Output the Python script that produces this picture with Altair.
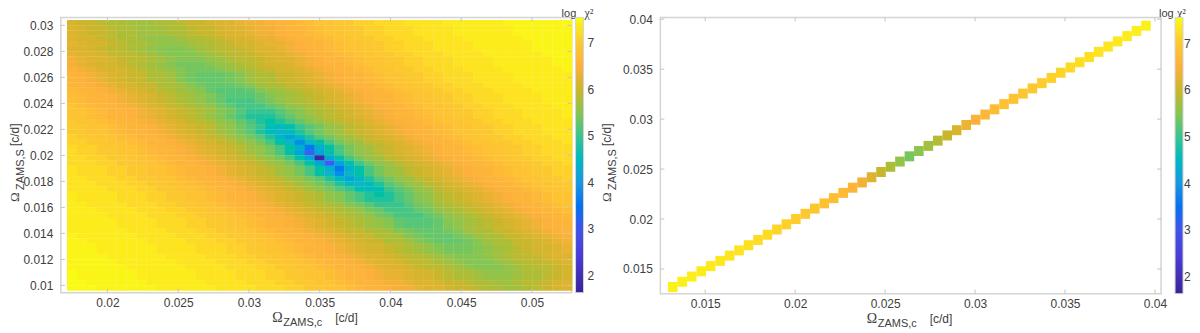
import altair as alt
import pandas as pd

# log chi^2 (in tenths), top row first, left column first
chi2_left = [
[61,60,60,59,58,58,57,57,57,58,58,59,60,60,61,62,62,63,64,64,65,66,66,67,68,69,69,70,70,71,71,72,72,72,73,73,73,73,74,74,74,74,74,74,75,75,75,75,75,75,76],
[62,61,60,60,59,58,58,57,57,57,58,58,59,60,60,61,62,62,63,64,64,65,66,66,67,68,69,69,70,70,71,71,72,72,72,73,73,73,73,74,74,74,74,74,74,75,75,75,75,75,75],
[62,61,60,60,59,58,58,57,57,57,58,58,59,60,60,61,62,62,63,64,64,65,66,66,67,68,69,69,70,70,71,71,72,72,72,73,73,73,73,74,74,74,74,74,74,75,75,75,75,75,75],
[62,61,61,60,59,58,58,57,56,56,56,57,58,58,59,60,61,61,62,63,63,64,65,66,66,67,68,69,69,70,70,71,71,72,72,72,73,73,73,73,74,74,74,74,74,74,75,75,75,75,75],
[63,62,61,61,60,59,58,58,57,56,56,56,57,58,58,59,60,61,61,62,63,63,64,65,66,66,67,68,69,69,70,70,71,71,72,72,72,73,73,73,73,74,74,74,74,74,74,75,75,75,75],
[62,62,61,60,59,59,58,57,56,55,55,55,56,57,58,59,59,60,61,62,62,63,64,65,66,66,67,68,69,69,70,70,71,71,72,72,72,73,73,73,73,74,74,74,74,74,74,75,75,75,75],
[63,62,62,61,60,59,59,58,57,56,55,55,55,56,57,58,59,59,60,61,62,62,63,64,65,66,66,67,68,69,69,70,70,71,71,72,72,72,73,73,73,73,74,74,74,74,74,74,75,75,75],
[64,63,62,62,61,60,59,59,58,57,56,55,55,55,56,57,58,59,59,60,61,62,62,63,64,65,66,66,67,68,69,69,70,70,71,71,72,72,72,73,73,73,73,74,74,74,74,74,74,75,75],
[64,63,62,61,61,60,59,58,57,56,55,54,54,54,55,56,57,58,59,60,61,61,62,63,64,65,66,66,67,68,69,69,70,70,71,71,72,72,72,73,73,73,73,74,74,74,74,74,74,75,75],
[65,64,63,62,61,61,60,59,58,57,56,55,54,54,54,55,56,57,58,59,60,61,61,62,63,64,65,66,66,67,68,69,69,70,70,71,71,72,72,72,73,73,73,73,74,74,74,74,74,74,75],
[66,65,64,63,62,61,60,60,58,58,57,55,54,53,53,53,54,55,57,58,58,60,60,61,62,63,64,65,66,66,67,68,69,69,70,70,71,71,72,72,72,73,73,73,73,74,74,74,74,74,74],
[66,65,64,63,62,61,60,60,58,58,57,55,54,53,53,53,54,55,57,58,58,60,60,61,62,63,64,65,66,66,67,68,69,69,70,70,71,71,72,72,72,73,73,73,73,74,74,74,74,74,74],
[66,66,65,64,63,62,61,60,60,58,58,57,55,54,53,53,53,54,55,57,58,58,60,60,61,62,63,64,65,66,66,67,68,69,69,70,70,71,71,72,72,72,73,73,73,73,74,74,74,74,74],
[67,66,66,65,64,63,62,61,60,59,58,57,56,55,53,52,52,52,53,55,56,57,58,59,60,61,62,63,64,65,66,66,67,68,69,69,70,70,71,71,72,72,72,73,73,73,73,74,74,74,74],
[68,67,66,66,65,64,63,62,61,60,59,58,57,56,55,53,52,52,52,53,55,56,57,58,59,60,61,62,63,64,65,66,66,67,68,69,69,70,70,71,71,72,72,72,73,73,73,73,74,74,74],
[68,67,66,66,65,64,63,62,61,60,59,58,57,56,54,53,51,51,51,53,54,56,57,58,59,60,61,62,63,64,65,66,66,67,68,69,69,70,70,71,71,72,72,72,73,73,73,73,74,74,74],
[69,68,67,66,66,65,64,63,62,61,60,59,58,57,56,54,53,51,51,51,53,54,56,57,58,59,60,61,62,63,64,65,66,66,67,68,69,69,70,70,71,71,72,72,72,73,73,73,73,74,74],
[69,69,68,67,66,66,65,64,63,62,61,60,59,58,57,55,54,52,50,50,50,52,54,55,57,58,59,60,61,62,63,64,65,66,66,67,68,69,69,70,70,71,71,72,72,72,73,73,73,73,74],
[69,69,68,67,66,66,65,64,63,62,61,60,59,58,56,55,53,51,49,49,49,51,53,55,56,58,59,60,61,62,63,64,65,66,66,67,68,69,69,70,70,71,71,72,72,72,73,73,73,73,74],
[70,69,69,68,67,66,66,65,64,63,62,61,60,59,58,56,55,53,51,49,48,49,51,53,55,56,58,59,60,61,62,63,64,65,66,66,67,68,69,69,70,70,71,71,72,72,72,73,73,73,73],
[70,70,69,69,68,67,66,66,65,64,63,62,61,60,59,57,56,54,52,50,47,46,47,50,52,54,56,57,59,60,61,62,63,64,65,66,66,67,68,69,69,70,70,71,71,72,72,72,73,73,73],
[70,70,69,69,68,67,66,66,65,64,63,62,61,60,59,57,56,54,52,49,46,44,46,49,52,54,56,57,59,60,61,62,63,64,65,66,66,67,68,69,69,70,70,71,71,72,72,72,73,73,73],
[71,70,70,69,69,68,67,66,66,65,64,63,62,61,60,59,57,56,54,52,49,45,42,45,49,52,54,56,57,59,60,61,62,63,64,65,66,66,67,68,69,69,70,70,71,71,72,72,72,73,73],
[71,71,70,70,69,69,68,67,66,66,65,64,63,62,61,60,59,57,56,54,51,48,44,39,44,48,51,54,56,57,59,60,61,62,63,64,65,66,66,67,68,69,69,70,70,71,71,72,72,72,73],
[72,71,71,70,70,69,69,68,67,66,66,65,64,63,62,61,60,59,57,56,54,51,48,43,36,43,48,51,54,56,57,59,60,61,62,63,64,65,66,66,67,68,69,69,70,70,71,71,72,72,72],
[72,71,71,70,70,69,69,68,67,66,66,65,64,63,62,61,60,59,57,56,54,51,48,42,33,42,48,51,54,56,57,59,60,61,62,63,64,65,66,66,67,68,69,69,70,70,71,71,72,72,72],
[72,72,71,71,70,70,69,69,68,67,66,66,65,64,63,62,61,60,59,57,56,54,51,48,42,18,42,48,51,54,56,57,59,60,61,62,63,64,65,66,66,67,68,69,69,70,70,71,71,72,72],
[72,72,72,71,71,70,70,69,69,68,67,66,66,65,64,63,62,61,60,59,57,56,54,51,48,42,33,42,48,51,54,56,57,59,60,61,62,63,64,65,66,66,67,68,69,69,70,70,71,71,72],
[73,72,72,72,71,71,70,70,69,69,68,67,66,66,65,64,63,62,61,60,59,57,56,54,51,48,43,36,43,48,51,54,56,57,59,60,61,62,63,64,65,66,66,67,68,69,69,70,70,71,71],
[73,72,72,72,71,71,70,70,69,69,68,67,66,66,65,64,63,62,61,60,59,57,56,54,51,48,44,39,44,48,51,54,56,57,59,60,61,62,63,64,65,66,66,67,68,69,69,70,70,71,71],
[73,73,72,72,72,71,71,70,70,69,69,68,67,66,66,65,64,63,62,61,60,59,57,56,54,52,49,45,42,45,49,52,54,56,57,59,60,61,62,63,64,65,66,66,67,68,69,69,70,70,71],
[73,73,73,72,72,72,71,71,70,70,69,69,68,67,66,66,65,64,63,62,61,60,59,57,56,54,52,49,46,44,46,49,52,54,56,57,59,60,61,62,63,64,65,66,66,67,68,69,69,70,70],
[73,73,73,73,72,72,72,71,71,70,70,69,69,68,67,66,66,65,64,63,62,61,60,59,57,56,54,52,50,47,46,47,50,52,54,56,57,59,60,61,62,63,64,65,66,66,67,68,69,69,70],
[74,73,73,73,73,72,72,72,71,71,70,70,69,69,68,67,66,66,65,64,63,62,61,60,59,58,56,55,53,51,49,48,49,51,53,55,56,58,59,60,61,62,63,64,65,66,66,67,68,69,69],
[74,73,73,73,73,72,72,72,71,71,70,70,69,69,68,67,66,66,65,64,63,62,61,60,59,58,56,55,53,51,49,49,49,51,53,55,56,58,59,60,61,62,63,64,65,66,66,67,68,69,69],
[74,74,73,73,73,73,72,72,72,71,71,70,70,69,69,68,67,66,66,65,64,63,62,61,60,59,58,57,55,54,52,50,50,50,52,54,55,57,58,59,60,61,62,63,64,65,66,66,67,68,69],
[74,74,74,73,73,73,73,72,72,72,71,71,70,70,69,69,68,67,66,66,65,64,63,62,61,60,59,58,57,56,54,53,51,51,51,53,54,56,57,58,59,60,61,62,63,64,65,66,66,67,68],
[74,74,74,74,73,73,73,73,72,72,72,71,71,70,70,69,69,68,67,66,66,65,64,63,62,61,60,59,58,57,56,54,53,51,51,51,53,54,56,57,58,59,60,61,62,63,64,65,66,66,67],
[74,74,74,74,74,73,73,73,73,72,72,72,71,71,70,70,69,69,68,67,66,66,65,64,63,62,61,60,59,58,57,56,55,53,52,52,52,53,55,56,57,58,59,60,61,62,63,64,65,66,66],
[74,74,74,74,74,73,73,73,73,72,72,72,71,71,70,70,69,69,68,67,66,66,65,64,63,62,61,60,59,58,57,56,55,53,52,52,52,53,55,56,57,58,59,60,61,62,63,64,65,66,66],
[74,74,74,74,74,74,73,73,73,73,72,72,72,71,71,70,70,69,69,68,67,66,66,65,64,63,62,61,60,60,58,58,57,55,54,53,53,53,54,55,57,58,58,60,60,61,62,63,64,65,66],
[75,74,74,74,74,74,74,73,73,73,73,72,72,72,71,71,70,70,69,69,68,67,66,66,65,64,63,62,61,60,60,58,58,57,55,54,53,53,53,54,55,57,58,58,60,60,61,62,63,64,65],
[75,75,74,74,74,74,74,74,73,73,73,73,72,72,72,71,71,70,70,69,69,68,67,66,66,65,64,63,62,61,60,60,58,58,57,55,54,53,53,53,54,55,57,58,58,60,60,61,62,63,64],
[75,75,75,74,74,74,74,74,74,73,73,73,73,72,72,72,71,71,70,70,69,69,68,67,66,66,65,64,63,62,61,61,60,59,58,57,56,55,54,54,54,55,56,57,58,59,60,61,61,62,63],
[75,75,75,74,74,74,74,74,74,73,73,73,73,72,72,72,71,71,70,70,69,69,68,67,66,66,65,64,63,62,61,61,60,59,58,57,56,55,54,54,54,55,56,57,58,59,60,61,61,62,63],
[75,75,75,75,74,74,74,74,74,74,73,73,73,73,72,72,72,71,71,70,70,69,69,68,67,66,66,65,64,63,62,62,61,60,59,59,58,57,56,55,55,55,56,57,58,59,59,60,61,62,62],
[75,75,75,75,75,74,74,74,74,74,74,73,73,73,73,72,72,72,71,71,70,70,69,69,68,67,66,66,65,64,63,62,62,61,60,59,59,58,57,56,55,55,55,56,57,58,59,59,60,61,62],
[75,75,75,75,75,75,74,74,74,74,74,74,73,73,73,73,72,72,72,71,71,70,70,69,69,68,67,66,66,65,64,63,62,62,61,60,59,59,58,57,56,55,55,55,56,57,58,59,59,60,61],
[76,75,75,75,75,75,75,74,74,74,74,74,74,73,73,73,73,72,72,72,71,71,70,70,69,69,68,67,66,66,65,64,63,63,62,61,61,60,59,58,58,57,56,56,56,57,58,58,59,60,61],
[76,75,75,75,75,75,75,74,74,74,74,74,74,73,73,73,73,72,72,72,71,71,70,70,69,69,68,67,66,66,65,64,63,63,62,61,61,60,59,58,58,57,56,56,56,57,58,58,59,60,61],
[76,76,75,75,75,75,75,75,74,74,74,74,74,74,73,73,73,73,72,72,72,71,71,70,70,69,69,68,67,66,66,65,64,64,63,62,62,61,60,60,59,58,58,57,57,58,59,59,60,61,62],
[76,76,76,75,75,75,75,75,75,74,74,74,74,74,74,73,73,73,73,72,72,72,71,71,70,70,69,69,68,67,66,66,65,64,64,63,62,62,61,60,60,59,58,58,57,57,58,59,60,61,62],
]
x_left_first, x_left_step = 0.0175, 0.0007
y_left_top, y_left_step = 0.0302, 0.0004

# right map: the diagonal of cells
diag_x_first, diag_x_step = 0.0132, 0.000526
diag_y_first, diag_y_step = 0.0132, 0.000523
chi2_diag = [7.45,7.45,7.42,7.4,7.38,7.35,7.33,7.3,7.27,7.23,7.2,7.15,7.1,7.05,7.0,6.95,6.88,6.8,6.7,6.6,
             6.4,6.2,6.0,5.8,5.6,5.4,5.55,5.7,5.85,6.0,6.15,6.35,6.5,6.65,6.75,6.85,6.9,6.95,7.0,7.05,
             7.1,7.15,7.2,7.25,7.28,7.3,7.33,7.36,7.4,7.42,7.45]

x_ticks_left = [0.02, 0.025, 0.03, 0.035, 0.04, 0.045, 0.05]
y_ticks_left = [0.01, 0.012, 0.014, 0.016, 0.018, 0.02, 0.022, 0.024, 0.026, 0.028, 0.03]
x_ticks_right = [0.015, 0.02, 0.025, 0.03, 0.035, 0.04]
y_ticks_right = [0.015, 0.02, 0.025, 0.03, 0.035, 0.04]
cbar_ticks = [2, 3, 4, 5, 6, 7]

cdomain = [1.64, 2.5, 3.3, 4.0, 4.4, 5.0, 5.5, 6.0, 6.5, 7.0, 7.56]
ccolors = ["#3a2299", "#4a3fd8", "#3a5ef0", "#1a96e0", "#0cb4c8", "#38c48f", "#85c552", "#c9b62c", "#fdb03c", "#fcc82f", "#f9fb15"]

INK = "#404040"
FRAME = "#d4d4d4"
SANS = "Liberation Sans"
SERIF = "Liberation Serif"

left_cells = pd.DataFrame([
    {"x0": x_left_first + j * x_left_step - 0.00036, "x1": x_left_first + j * x_left_step + 0.00036,
     "y0": y_left_top - i * y_left_step - 0.00021, "y1": y_left_top - i * y_left_step + 0.00021,
     "v": v / 10}
    for i, row in enumerate(chi2_left) for j, v in enumerate(row)
])
right_cells = pd.DataFrame([
    {"x0": diag_x_first + i * diag_x_step - 0.000266, "x1": diag_x_first + i * diag_x_step + 0.000266,
     "y0": diag_y_first + i * diag_y_step - 0.0005, "y1": diag_y_first + i * diag_y_step + 0.0005,
     "v": v}
    for i, v in enumerate(chi2_diag)
])


def txt(s, x, y, font=SANS, size=12, angle=0):
    return alt.Chart(pd.DataFrame({"t": [s]})).mark_text(
        font=font, fontSize=size, color=INK, align="left", baseline="alphabetic", angle=angle
    ).encode(x=alt.value(x), y=alt.value(y), text="t:N")


def panel(cells, xdom, ydom, xt, yt, W, H, xtitle_x, ytitle_off, log_x, chi_gap, bar_x, lab_off):
    xs = alt.Scale(domain=xdom, nice=False, zero=False)
    ys = alt.Scale(domain=ydom, nice=False, zero=False)
    xaxis = alt.Axis(values=xt, format=".3~f", ticks=False, domain=False, grid=False, labelFont=SANS,
                     labelFontSize=12, labelColor=INK, labelPadding=5, labelFlush=False)
    yaxis = alt.Axis(values=yt, format=".3~f", ticks=False, domain=False, grid=False, labelFont=SANS,
                     labelFontSize=12, labelColor=INK, labelPadding=8, labelFlush=False)
    heat = alt.Chart(cells).mark_rect(strokeWidth=0).encode(
        x=alt.X("x0:Q", scale=xs, title=None, axis=xaxis),
        x2="x1:Q",
        y=alt.Y("y0:Q", scale=ys, title=None, axis=yaxis),
        y2="y1:Q",
        color=alt.Color("v:Q", scale=alt.Scale(domain=cdomain, range=ccolors, nice=False, zero=False, clamp=True),
                        legend=alt.Legend(orient="none", legendX=bar_x, legendY=0, title=None, type="gradient",
                                          direction="vertical", gradientLength=H, gradientThickness=8,
                                          values=cbar_ticks, labelFont=SANS, labelFontSize=12, labelColor=INK,
                                          labelOffset=lab_off, gradientStrokeColor=FRAME, gradientStrokeWidth=1)),
    )
    xdf = pd.DataFrame({"v": xt})
    ydf = pd.DataFrame({"v": yt})
    rule = dict(color="#c4c4c4", strokeWidth=1)
    ticks = [
        alt.Chart(ydf).mark_rule(**rule).encode(y=alt.Y("v:Q", scale=ys, title=None, axis=yaxis), x=alt.value(0), x2=alt.value(4)),
        alt.Chart(ydf).mark_rule(**rule).encode(y=alt.Y("v:Q", scale=ys, title=None, axis=yaxis), x=alt.value(W - 4), x2=alt.value(W)),
        alt.Chart(xdf).mark_rule(**rule).encode(x=alt.X("v:Q", scale=xs, title=None, axis=xaxis), y=alt.value(0), y2=alt.value(4)),
        alt.Chart(xdf).mark_rule(**rule).encode(x=alt.X("v:Q", scale=xs, title=None, axis=xaxis), y=alt.value(H - 4), y2=alt.value(H)),
    ]
    texts = [
        txt("Ω", xtitle_x, H + 29, SERIF, 14),
        txt("ZAMS,c", xtitle_x + 11, H + 33, SANS, 11),
        txt("[c/d]", xtitle_x + 63, H + 29, SANS, 12),
        txt("Ω", ytitle_off, 185, SERIF, 13, 270),
        txt("ZAMS,S", ytitle_off + 5, 173, SANS, 11, 270),
        txt("[c/d]", ytitle_off, 129, SANS, 12, 270),
        txt("log", log_x, 0, SANS, 11),
        txt("χ²", log_x + chi_gap, 0, SERIF, 12),
    ]
    return alt.layer(heat, *ticks, *texts).properties(width=W, height=H)


left = panel(left_cells, [0.016708, 0.0528], [0.00944, 0.030614], x_ticks_left, y_ticks_left,
             512, 276, 212, -42, 502, 23, 516, 4)
right = panel(right_cells, [0.012506, 0.04034], [0.01253, 0.04018], x_ticks_right, y_ticks_right,
              502, 277, 207, -49, 500, 18, 516, 1)

chart = (
    alt.hconcat(left, right, spacing=5)
    .resolve_scale(color="independent")
    .properties(padding=alt.Padding(left=0, top=-2, right=0, bottom=0), background="white")
    .configure_view(stroke=FRAME, strokeWidth=1.5)
)
chart.save("out.html", embed_options={"renderer": "svg", "actions": False})
